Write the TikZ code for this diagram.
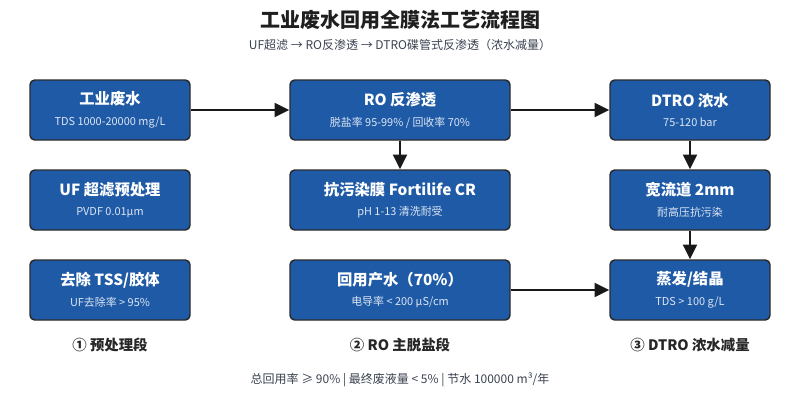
\documentclass[tikz,border=0pt]{standalone}
\usepackage{fontspec}
\setmainfont{Noto Sans CJK SC}
\usepackage{xcolor}
\usetikzlibrary{arrows.meta,positioning}

\definecolor{boxblue}{HTML}{1F5AA6}
\definecolor{boxedge}{HTML}{2B2B2B}
\definecolor{subtxt}{HTML}{DCE6F4}
\definecolor{captxt}{HTML}{3A4250}

\tikzset{
  unit/.style={draw=boxedge,line width=1.1pt,fill=boxblue,rounded corners=3.5pt,
               text=white,align=center,minimum height=45pt,inner sep=0pt},
  narrow/.style={unit,minimum width=120pt},
  wide/.style={unit,minimum width=165pt},
  flow/.style={-{Triangle[length=11pt,width=10.5pt]},line width=1.5pt,draw=black!90},
  phase/.style={font=\fontsize{10.8}{12}\selectfont\bfseries,text=black!85},
}
\newcommand{\unittext}[2]{{\fontsize{11.5}{13}\selectfont\bfseries #1}\\[3.5pt]%
  {\fontsize{8.2}{9}\selectfont\color{subtxt}#2}}

\begin{document}
\begin{tikzpicture}[x=0.75pt,y=-0.75pt]
  \useasboundingbox (0,0) rectangle (800,400);

  \node[font=\fontsize{15}{17}\selectfont\bfseries,text=black!88] (title) at (400,20)
    {工业废水回用全膜法工艺流程图};
  \node[font=\fontsize{9}{10}\selectfont,text=captxt] (sub) at (400,45)
    {UF超滤 → RO反渗透 → DTRO碟管式反渗透（浓水减量）};

  % pretreatment
  \node[narrow] (raw) at (110,110) {\unittext{工业废水}{TDS 1000-20000 mg/L}};
  \node[narrow] (uf)  at (110,200) {\unittext{UF 超滤预处理}{PVDF 0.01μm}};
  \node[narrow] (tss) at (110,290) {\unittext{去除 TSS/胶体}{UF去除率 > 95\%}};

  % RO
  \node[wide] (ro)   at (400,110) {\unittext{RO 反渗透}{脱盐率 95-99\% / 回收率 70\%}};
  \node[wide] (cr)   at (400,200) {\unittext{抗污染膜 Fortilife CR}{pH 1-13 清洗耐受}};
  \node[wide] (prod) at (400,290) {\unittext{回用产水（70\%）}{电导率 < 200 μS/cm}};

  % DTRO
  \node[narrow] (dtro) at (690,110) {\unittext{DTRO 浓水}{75-120 bar}};
  \node[narrow] (chan) at (690,200) {\unittext{宽流道 2mm}{耐高压抗污染}};
  \node[narrow] (evap) at (690,290) {\unittext{蒸发/结晶}{TDS > 100 g/L}};

  \draw[flow] (raw.east) -- (ro.west);
  \draw[flow] (ro.east) -- (dtro.west);
  \draw[flow] (ro.south) -- (cr.north);
  \draw[flow] (dtro.south) -- (chan.north);
  \draw[flow] (chan.south) -- (evap.north);
  \draw[flow] (prod.east) -- (evap.west);

  \node[phase] (p1) at (110,345) {① 预处理段};
  \node[phase] (p2) at (400,345) {② RO 主脱盐段};
  \node[phase] (p3) at (690,345) {③ DTRO 浓水减量};

  \node[font=\fontsize{9}{10}\selectfont,text=captxt] (foot) at (400,380)
    {总回用率 ≥ 90\% | 最终废液量 < 5\% | 节水 100000 m³/年};
\end{tikzpicture}
\end{document}
